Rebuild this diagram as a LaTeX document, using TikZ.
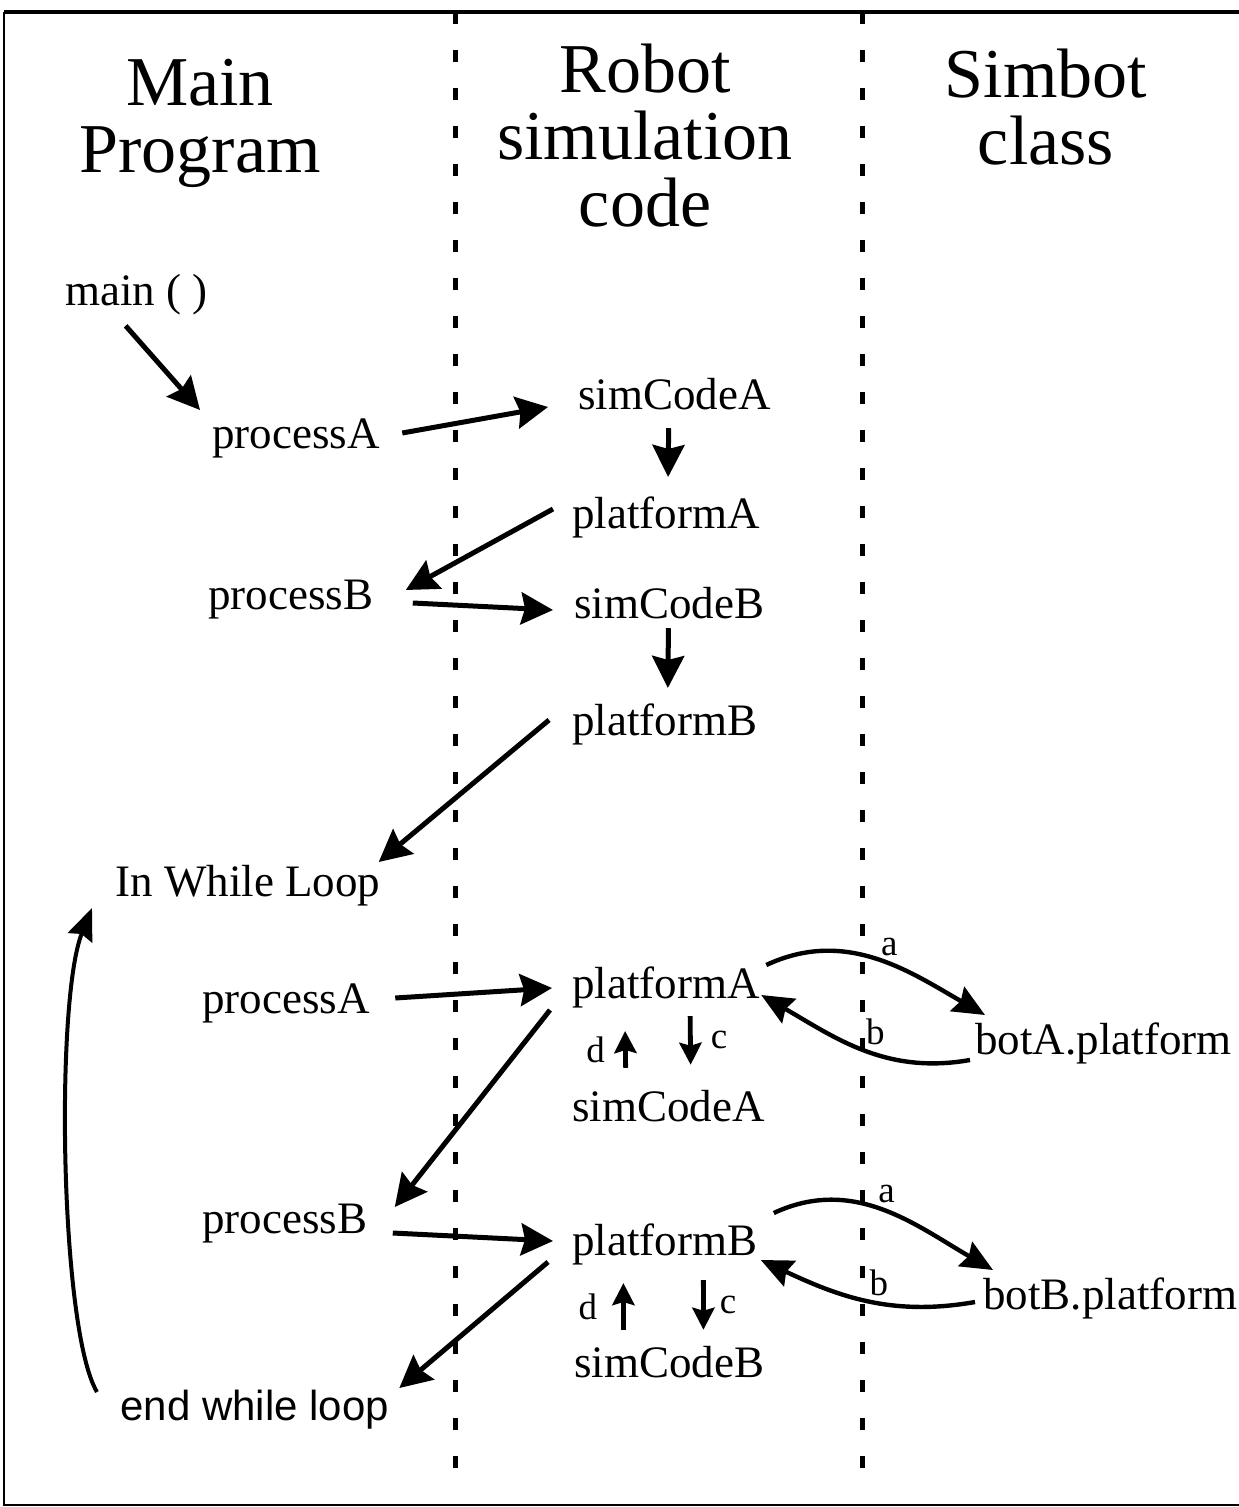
\documentclass[tikz,border=0pt]{standalone}
\usepackage{fontspec}
\setmainfont{Liberation Serif}
\newfontfamily\helvfont{Liberation Sans}
\usetikzlibrary{arrows.meta}
\newcommand\ColumnLine[3]{%
    \draw[line width=2.5pt,dash pattern=on 6pt off 13pt] (#1,#2) -- (#1,#3);
}

\begin{document}
\begin{tikzpicture}[x=0.5pt,y=-0.5pt,
    txt/.style={inner sep=0pt,anchor=west,font=\fontsize{22.5}{27}\selectfont},
    head/.style={inner sep=0pt,anchor=north,align=center,font=\fontsize{35}{33.5}\selectfont},
    lbl/.style={inner sep=1pt,font=\fontsize{18.5}{22}\selectfont},
    arr/.style={line width=2.5pt,-{Stealth[length=16pt,width=16pt,inset=2pt]}},
    smallarr/.style={line width=2.4pt,-{Stealth[length=11pt,width=11pt,inset=1.5pt]}},
    bendarr/.style={line width=2.2pt,-{Stealth[length=16pt,width=14pt,inset=2pt]}}]
    \useasboundingbox (0,0) rectangle (1238,1507);
    % frame and columns
    \draw[line width=1pt] (1250,1505) -- (4,1505) -- (4,12);
    \draw[line width=2pt] (4,12) -- (1250,12);
    \ColumnLine{455}{12}{1492}
    \ColumnLine{862}{12}{1492}

    \node[head] (HeadMain) at (200,59) {Main\\Program};
    \node[head] (HeadRobot) at (645,44) {Robot\\simulation\\code};
    \node[head] (HeadSimbot) at (1046,49) {Simbot\\class};

    % before the loop
    \node[txt] (MainFn) at (65,295) {main ( )};
    \node[txt] (ProcA) at (212,438) {processA};
    \node[txt] (SimA) at (578,394) {simCodeA};
    \node[txt] (PlatA) at (572,517) {platformA};
    \node[txt] (ProcB) at (208,600) {processB};
    \node[txt] (SimB) at (574,603) {simCodeB};
    \node[txt] (PlatB) at (572,724) {platformB};
    \node[txt] (InLoop) at (115,886) {In While Loop};

    \draw[arr] ([shift={(-11,10)}]MainFn.south) -- ([shift={(-12,-28)}]ProcA.west);
    \draw[arr] ([shift={(22,-5)}]ProcA.east) -- ([shift={(-30,13)}]SimA.west);
    \draw[arr] ([shift={(-6,18)}]SimA.south) -- ([shift={(2,-19)}]PlatA.north);
    \draw[arr] ([shift={(-19,-8)}]PlatA.west) -- ([shift={(32,-10)}]ProcB.east);
    \draw[arr] ([shift={(39,3)}]ProcB.east) -- ([shift={(-21,7)}]SimB.west);
    \draw[arr] ([shift={(-1,9)}]SimB.south) -- ([shift={(3,-15)}]PlatB.north);
    \draw[arr] ([shift={(-23,-4)}]PlatB.west) -- ([shift={(-2,-24)}]InLoop.east);

    % in the loop
    \node[txt] (LoopProcA) at (202,1003) {processA};
    \node[txt] (LoopPlatA) at (572,987) {platformA};
    \node[txt] (LoopSimA) at (572,1106) {simCodeA};
    \node[txt] (LoopProcB) at (202,1224) {processB};
    \node[txt] (LoopPlatB) at (572,1244) {platformB};
    \node[txt] (LoopSimB) at (574,1362) {simCodeB};
    \node[txt,font=\helvfont\fontsize{21}{25}\selectfont] (EndLoop) at (120,1410) {end while loop};
    \node[txt] (BotA) at (975,1043) {botA.platform};
    \node[txt] (BotB) at (983,1298) {botB.platform};

    \draw[line width=2pt,-{Stealth[length=16pt,width=13pt,inset=2pt]}]
        ([shift={(-23,-18)}]EndLoop.west) .. controls (60,1330) and (55,1000) .. ([shift={(-23,22)}]InLoop.west);
    \draw[arr] ([shift={(25,-5)}]LoopProcA.east) -- ([shift={(-20,1)}]LoopPlatA.west);
    \draw[arr] ([shift={(-22,23)}]LoopPlatA.west) -- ([shift={(27,-17)}]LoopProcB.east);
    \draw[arr] ([shift={(25,9)}]LoopProcB.east) -- ([shift={(-19,-3)}]LoopPlatB.west);
    \draw[arr] ([shift={(-24,18)}]LoopPlatB.west) -- ([shift={(10,-22)}]EndLoop.east);

    \begin{scope} % A
        \draw[smallarr] ([shift={(-43,-22)}]LoopSimA.north) -- ([shift={(-41,23)}]LoopPlatA.south)
            node[lbl,midway,left=8pt] (LblAd) {d};
        \draw[smallarr] ([shift={(24,8)}]LoopPlatA.south) -- ([shift={(22,-25)}]LoopSimA.north)
            node[lbl,midway,right=8pt] (LblAc) {c};
        \draw[bendarr] ([shift={(6,-22)}]LoopPlatA.east) to[out=25,in=150]
            node[lbl,pos=0.5,anchor=south west] (LblAa) {a} ([shift={(10,-28)}]BotA.west);
        \draw[bendarr] ([shift={(-5,17)}]BotA.west) to[out=190,in=-30]
            node[lbl,pos=0.5,anchor=south west] (LblAb) {b} ([shift={(1,8)}]LoopPlatA.east);
    \end{scope}
    \begin{scope} % B
        \draw[smallarr] ([shift={(-46,-16)}]LoopSimB.north) -- ([shift={(-41.5,18)}]LoopPlatB.south)
            node[lbl,midway,left=11pt] (LblBd) {d};
        \draw[smallarr] ([shift={(38.5,15)}]LoopPlatB.south) -- ([shift={(34,-16)}]LoopSimB.north)
            node[lbl,midway,right=6pt] (LblBc) {c};
        \draw[bendarr] ([shift={(16,-31)}]LoopPlatB.east) to[out=25,in=150]
            node[lbl,pos=0.45,anchor=south west] (LblBa) {a} ([shift={(10,-28)}]BotB.west);
        \draw[bendarr] ([shift={(-8,4)}]BotB.west) to[out=190,in=-25]
            node[lbl,pos=0.5,anchor=south west] (LblBb) {b} ([shift={(3,16)}]LoopPlatB.east);
    \end{scope}
\end{tikzpicture}
\end{document}
